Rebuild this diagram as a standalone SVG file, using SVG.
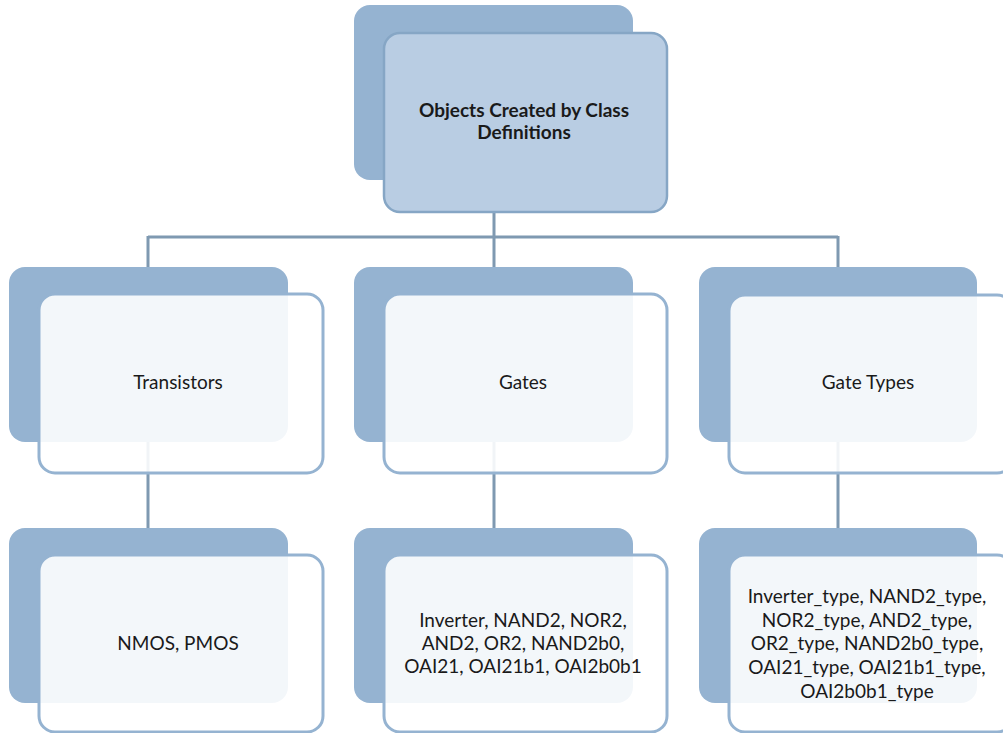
<svg xmlns="http://www.w3.org/2000/svg" width="1003" height="733" viewBox="0 0 1003 733">
<style>
.back{fill:#95B3D1}
.front{fill:#FFFFFF;fill-opacity:0.89;stroke:#95B3D1;stroke-width:3}
.top{fill:#B9CDE3;stroke:#86A6C5;stroke-width:2.5}
.conn{stroke:#7F99B1;stroke-width:3;fill:none}
text{font-family:Lato,"Liberation Sans",sans-serif;font-size:19px;fill:#1A1A1A;text-anchor:middle}
.b{font-weight:bold}
</style>
<rect width="1003" height="733" fill="#FFFFFF"/>
<g id="connectors">
<path class="conn" d="M494,212 V237 M148,237 H838 M148,236 V528 M494,236 V528 M838,236 V528"/>
</g>
<g id="root">
<rect class="back" x="354" y="5" width="279" height="175" rx="16"/>
<rect class="top" x="384" y="33" width="283" height="179" rx="16"/>
<text class="b" x="524" y="117">Objects Created by Class</text>
<text class="b" x="524" y="139">Definitions</text>
</g>
<g id="transistors">
<rect class="back" x="9" y="267" width="279" height="175" rx="16"/>
<rect class="front" x="39" y="294" width="284" height="179" rx="16"/>
<text x="178" y="389">Transistors</text>
</g>
<g id="gates">
<rect class="back" x="354" y="267" width="279" height="175" rx="16"/>
<rect class="front" x="384" y="294" width="283" height="179" rx="16"/>
<text x="523" y="389">Gates</text>
</g>
<g id="gate-types">
<rect class="back" x="699" y="267" width="278" height="175" rx="16"/>
<rect class="front" x="729" y="295" width="284" height="178" rx="16"/>
<text x="868" y="389">Gate Types</text>
</g>
<g id="nmos-pmos">
<rect class="back" x="9" y="528" width="279" height="175" rx="16"/>
<rect class="front" x="39" y="555" width="284" height="177" rx="16"/>
<text x="178" y="650">NMOS, PMOS</text>
</g>
<g id="gate-list">
<rect class="back" x="354" y="528" width="279" height="175" rx="16"/>
<rect class="front" x="384" y="555" width="283" height="177" rx="16"/>
<text x="523" y="627">Inverter, NAND2, NOR2,</text>
<text x="523" y="650">AND2, OR2, NAND2b0,</text>
<text x="523" y="673">OAI21, OAI21b1, OAI2b0b1</text>
</g>
<g id="gate-type-list">
<rect class="back" x="699" y="528" width="278" height="175" rx="16"/>
<rect class="front" x="729" y="555" width="284" height="177" rx="16"/>
<text x="867" y="603">Inverter_type, NAND2_type,</text>
<text x="867" y="627">NOR2_type, AND2_type,</text>
<text x="867" y="650">OR2_type, NAND2b0_type,</text>
<text x="867" y="674">OAI21_type, OAI21b1_type,</text>
<text x="867" y="698">OAI2b0b1_type</text>
</g>
</svg>
